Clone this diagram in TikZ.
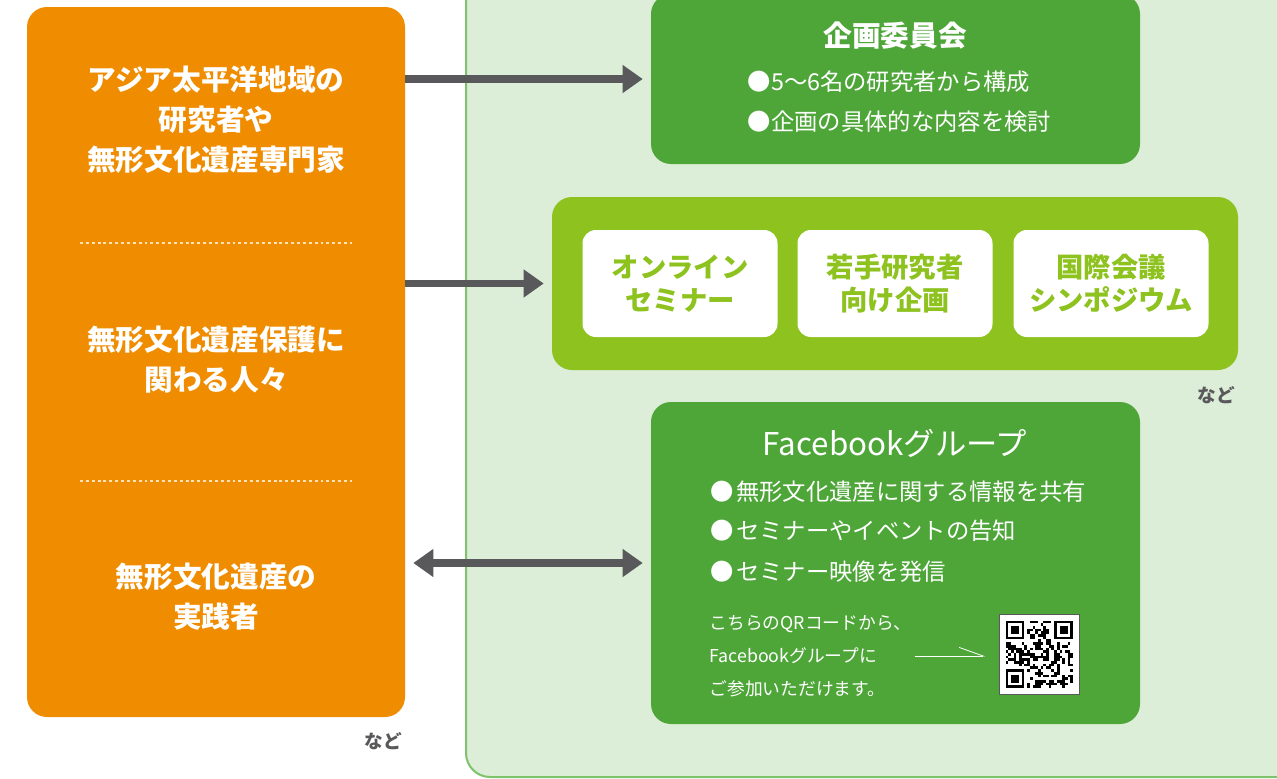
\documentclass[tikz,border=0pt]{standalone}
\usepackage{fontspec}
\setmainfont{Noto Sans CJK JP}
\usetikzlibrary{arrows.meta}
\definecolor{orangebox}{HTML}{F08C00}
\definecolor{darkgreen}{HTML}{4EA639}
\definecolor{limegreen}{HTML}{8DC21F}
\definecolor{panelgreen}{HTML}{DCEDD8}
\definecolor{panelborder}{HTML}{7DC36B}
\definecolor{arrowgray}{HTML}{59585A}
\definecolor{dashcream}{HTML}{FFE2B8}
\tikzset{
  orangetext/.style={text=white, font=\fontsize{21.5}{30}\selectfont\bfseries, align=center},
  boxtitle/.style={text=white, font=\fontsize{21.5}{28}\selectfont\bfseries},
  bullettext/.style={text=white, font=\fontsize{17.5}{30}\selectfont, align=left, anchor=west},
  innerbox/.style={fill=white, rounded corners=10pt, minimum width=146.25pt, minimum height=80.25pt, text=limegreen, font=\fontsize{20.5}{25}\selectfont\bfseries, align=center, inner sep=0pt},
  bigarrow/.style={draw=arrowgray, line width=5.5pt, -{Triangle[length=15pt,width=20pt]}},
  nado/.style={text=arrowgray, font=\fontsize{14}{16}\selectfont\bfseries},
}
\begin{document}
\begin{tikzpicture}[x=0.75pt, y=-0.75pt]
\useasboundingbox (0,0) rectangle (1277,778);
\fill[white] (0,0) rectangle (1277,778);
% light green panel
\draw[fill=panelgreen, draw=panelborder, line width=1.5pt, rounded corners=18pt] (466,-40) rectangle (1320,777);
% orange box
\node[fill=orangebox, rounded corners=15pt, minimum width=283.5pt, minimum height=532.5pt, inner sep=0pt] (orange) at (216,362) {};
\draw[dashcream, line width=1pt, dash pattern=on 2.2pt off 2.2pt] (80,243) coordinate (d1a) -- (352,243) coordinate (d1b);
\draw[dashcream, line width=1pt, dash pattern=on 2.2pt off 2.2pt] (80,481) coordinate (d2a) -- (352,481) coordinate (d2b);
\node[orangetext] (o1) at (216,120) {アジア太平洋地域の\\研究者や\\無形文化遺産専門家};
\node[orangetext] (o2) at (216,360) {無形文化遺産保護に\\関わる人々};
\node[orangetext] (o3) at (216,597) {無形文化遺産の\\実践者};
\node[nado] (nado1) at (383,741) {など};
% committee box
\node[fill=darkgreen, rounded corners=15pt, minimum width=366.75pt, minimum height=127.5pt, inner sep=0pt] (comm) at (895.5,79) {};
\node[boxtitle] (commtitle) at (895,36) {企画委員会};
\node[bullettext] (cb1) at (743,82) {●5〜6名の研究者から構成};
\node[bullettext] (cb2) at (743,122) {●企画の具体的な内容を検討};
% lime box
\node[fill=limegreen, rounded corners=15pt, minimum width=514.5pt, minimum height=129.75pt, inner sep=0pt] (lime) at (895,283.5) {};
\node[innerbox] (ib1) at (680,283.5) {オンライン\\セミナー};
\node[innerbox] (ib2) at (895,283.5) {若手研究者\\向け企画};
\node[innerbox] (ib3) at (1111,283.5) {国際会議\\シンポジウム};
\node[nado] (nado2) at (1216,395) {など};
% facebook box
\node[fill=darkgreen, rounded corners=15pt, minimum width=366.75pt, minimum height=241.5pt, inner sep=0pt] (fb) at (895.5,563) {};
\node[text=white, font=\fontsize{23.5}{26}\selectfont] (fbtitle) at (895,443) {Facebookグループ};
\node[bullettext] (fb1) at (706,492) {●\kern1.5pt無形文化遺産に関する情報を共有};
\node[bullettext] (fb2) at (706,531) {●\kern1.5ptセミナーやイベントの告知};
\node[bullettext] (fb3) at (706,572) {●\kern1.5ptセミナー映像を発信};
\node[text=white, font=\fontsize{13.3}{24.75}\selectfont, align=left, anchor=west] (fbsmall) at (705,656) {こちらのQRコードから、\\Facebookグループに\\ご参加いただけます。};
% QR code
\node[fill=white, draw=arrowgray, line width=0.5pt, minimum size=60pt, inner sep=0pt] (qr) at (1039,654) {};
\begin{scope}[shift={(1005.5,620.5)}]
\pgfmathsetseed{12345}
\foreach \i in {0,...,24}{
  \foreach \j in {0,...,24}{
    \pgfmathrandominteger{\r}{0}{1}
    \ifnum\r=1 \fill[black] (\i*2.7,\j*2.7) rectangle ++(2.7,2.7); \fi
  }
}
\fill[white] (-0.1,-0.1) rectangle (8*2.7,8*2.7);
\fill[white] (17*2.7,-0.1) rectangle (25*2.7+0.1,8*2.7);
\fill[white] (-0.1,17*2.7) rectangle (8*2.7,25*2.7+0.1);
\foreach \fx/\fy in {0/0,18/0,0/18}{
  \fill[black] (\fx*2.7,\fy*2.7) rectangle ++(7*2.7,7*2.7);
  \fill[white] (\fx*2.7+2.7,\fy*2.7+2.7) rectangle ++(5*2.7,5*2.7);
  \fill[black] (\fx*2.7+5.4,\fy*2.7+5.4) rectangle ++(3*2.7,3*2.7);
}
\end{scope}
\coordinate (sa) at ([xshift=-1pt]fbsmall.east);
\coordinate (sb) at ([xshift=-10pt]qr.west);
\draw[white, line width=0.6pt, -{Straight Barb[left, length=18pt, width=13pt]}] (sa) -- (sb |- sa);
% arrows
\draw[bigarrow, shorten >=6pt] (orange.east |- comm.west) -- (comm.west);
\draw[bigarrow, shorten >=6pt] (orange.east |- lime.west) -- (lime.west);
\draw[bigarrow, {Triangle[length=15pt,width=20pt]}-{Triangle[length=15pt,width=20pt]}, shorten >=6pt, shorten <=6pt] (orange.east |- fb.west) -- (fb.west);
\end{tikzpicture}
\end{document}
